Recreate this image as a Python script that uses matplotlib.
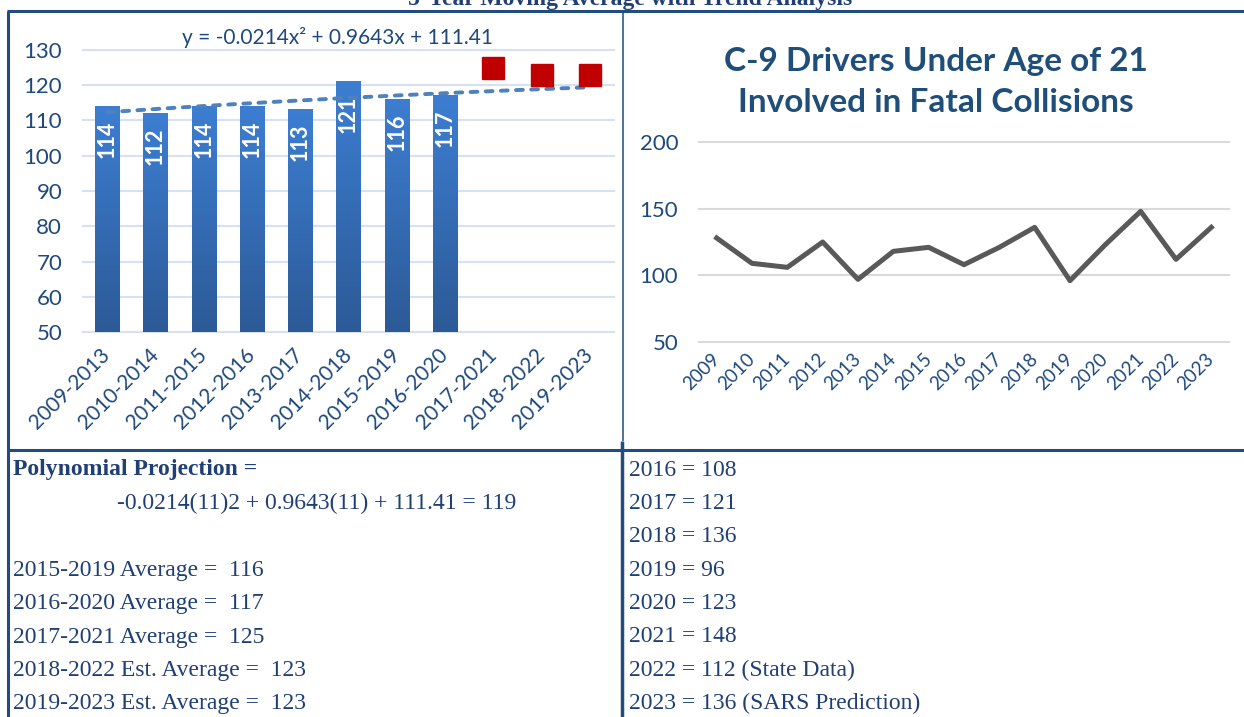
"""
C-9 drivers under 21 in fatal collisions: 5-year moving average with trend,
yearly line chart and the note table underneath.
"""

import numpy as np
import matplotlib.pyplot as plt
from matplotlib.colors import LinearSegmentedColormap
from matplotlib.lines import Line2D

# ── Data ──────────────────────────────────────────────────────────────────────
periods = ["2009-2013", "2010-2014", "2011-2015", "2012-2016", "2013-2017",
           "2014-2018", "2015-2019", "2016-2020", "2017-2021", "2018-2022",
           "2019-2023"]
avg_actual = [114, 112, 114, 114, 113, 121, 116, 117]
avg_est = [125, 123, 123]
trend_coef = [-0.0214, 0.9643, 111.41]          # y = ax^2 + bx + c (x = 1..11)
trend_label = "y = -0.0214x² + 0.9643x + 111.41"

years = ["2009", "2010", "2011", "2012", "2013", "2014", "2015", "2016",
         "2017", "2018", "2019", "2020", "2021", "2022", "2023"]
drivers = [128, 109, 106, 125, 97, 118, 121, 108, 121, 136, 96, 123, 148, 112, 136]

page_title = "5-Year Moving Average with Trend Analysis"
line_title = "C-9 Drivers Under Age of 21\nInvolved in Fatal Collisions"

left_notes = [
    "2015-2019 Average =  116",
    "2016-2020 Average =  117",
    "2017-2021 Average =  125",
    "2018-2022 Est. Average =  123",
    "2019-2023 Est. Average =  123",
]
projection_head = "Polynomial Projection ="
projection_calc = "-0.0214(11)2 + 0.9643(11) + 111.41 = 119"
right_notes = [
    "2016 = 108", "2017 = 121", "2018 = 136", "2019 = 96", "2020 = 123",
    "2021 = 148", "2022 = 112 (State Data)", "2023 = 136 (SARS Prediction)",
]

# ── Style ─────────────────────────────────────────────────────────────────────
W, H = 1244, 717
NAVY = "#1F497D"
TEXT = "#203F74"
RULE = "#214C7D"
plt.rcParams["font.family"] = ["Lato", "DejaVu Sans"]


def box(x0, y0, x1, y1):
    """Pixel box (top-left origin) -> figure fraction rect."""
    return [x0 / W, 1 - y1 / H, (x1 - x0) / W, (y1 - y0) / H]


def rule(x0, y0, x1, y1, lw):
    fig.add_artist(Line2D([x0 / W, x1 / W], [1 - y0 / H, 1 - y1 / H],
                          color=RULE, lw=lw, solid_capstyle="butt"))


fig = plt.figure(figsize=(W / 100, H / 100), dpi=100)

# ── Moving average bars ───────────────────────────────────────────────────────
ax1 = fig.add_axes(box(83, 50, 614, 332))
x = np.arange(len(periods))
n = len(avg_actual)
bars = ax1.bar(x[:n], np.array(avg_actual) - 50, bottom=50, width=0.5,
               color="#3570BE", zorder=2)
grad = np.linspace(0, 1, 256).reshape(-1, 1)
cmap = LinearSegmentedColormap.from_list("bar", ["#3D7ED2", "#2C5A97"])
for b in bars:
    x0, y0 = b.get_x(), b.get_y()
    ax1.imshow(grad, cmap=cmap, aspect="auto", origin="upper", zorder=2.1,
               extent=(x0, x0 + b.get_width(), y0, y0 + b.get_height()))
for xi, v in zip(x[:n], avg_actual):
    ax1.annotate(str(v), (xi, v), xytext=(0, -10), textcoords="offset points",
                 rotation=90, ha="center", va="top", color="white",
                 fontweight="bold", fontsize=15.5, zorder=5)

ax1.plot(x[n:], avg_est, ls="none", marker="s", ms=15.5, color="#C00000", zorder=4)

xt = np.linspace(1, len(periods), 200)
ax1.plot(xt - 1, np.polyval(trend_coef, xt), color="#4F81BD", lw=2.8,
         ls=(0, (1.75, 2.15)), dash_capstyle="round", zorder=3)
ax1.text(0.48, 1.043, trend_label, transform=ax1.transAxes, ha="center",
         va="center", fontsize=15, color=NAVY)

ax1.set_xlim(-0.5, len(periods) - 0.5)
ax1.set_ylim(50, 130)
ax1.set_yticks(range(50, 131, 10))
ax1.set_xticks(x)
ax1.set_xticklabels(periods, rotation=45, ha="right", va="center",
                    rotation_mode="anchor")
ax1.tick_params(length=0, labelcolor=NAVY)
ax1.tick_params(axis="x", labelsize=15, pad=14)
ax1.tick_params(axis="y", labelsize=16, pad=15)
ax1.grid(axis="y", color="#D6E2F3", lw=1.5)
ax1.set_axisbelow(True)
for gl in ax1.get_ygridlines():
    gl.set_clip_on(False)
for s in ax1.spines.values():
    s.set_visible(False)

# ── Yearly line ───────────────────────────────────────────────────────────────
ax2 = fig.add_axes(box(699, 142, 1229, 342))
xy = np.arange(len(years))
ax2.plot(xy, drivers, color="#595959", lw=3.6, solid_joinstyle="round", zorder=3)
ax2.set_xlim(-0.5, len(years) - 0.5)
ax2.set_ylim(50, 200)
ax2.set_yticks([50, 100, 150, 200])
ax2.set_xticks(xy)
ax2.set_xticklabels(years, rotation=45, ha="right", va="center",
                    rotation_mode="anchor")
ax2.tick_params(length=0, labelcolor=NAVY)
ax2.tick_params(axis="x", labelsize=13.5, pad=10)
ax2.tick_params(axis="y", labelsize=16, pad=15)
ax2.grid(axis="y", color="#D9D9D9", lw=1.5)
ax2.set_axisbelow(True)
for gl in ax2.get_ygridlines():
    gl.set_clip_on(False)
for s in ax2.spines.values():
    s.set_visible(False)

fig.text(936 / W, 1 - 82 / H, line_title, ha="center", va="center",
         fontsize=24, fontweight="bold", color="#1F4E79", linespacing=1.5)

# ── Page frame and notes ──────────────────────────────────────────────────────
fig.text(630 / W, 1 - 5 / H, page_title, ha="center", va="baseline",
         family="Liberation Serif", fontweight="bold", fontsize=17, color=TEXT)

rule(7, 11, W, 11, 2.2)
rule(8, 11, 8, H, 2.2)
rule(7, 450, W, 450, 2.2)
rule(623, 11, 623, 441, 1.1)
rule(622, 441, 622, H, 2.5)

row_y = [470 + i * 33.4 for i in range(8)]
serif = dict(family="Liberation Serif", fontsize=17, color=TEXT, va="center")
fig.text(13 / W, 1 - row_y[0] / H, projection_head, fontweight="bold", **serif)
fig.text(117 / W, 1 - row_y[1] / H, projection_calc, **serif)
for i, t in enumerate(left_notes):
    fig.text(13 / W, 1 - row_y[i + 3] / H, t, **serif)
for i, t in enumerate(right_notes):
    fig.text(629 / W, 1 - row_y[i] / H, t, **serif)

fig.savefig("out.png", dpi=100)
plt.close(fig)
